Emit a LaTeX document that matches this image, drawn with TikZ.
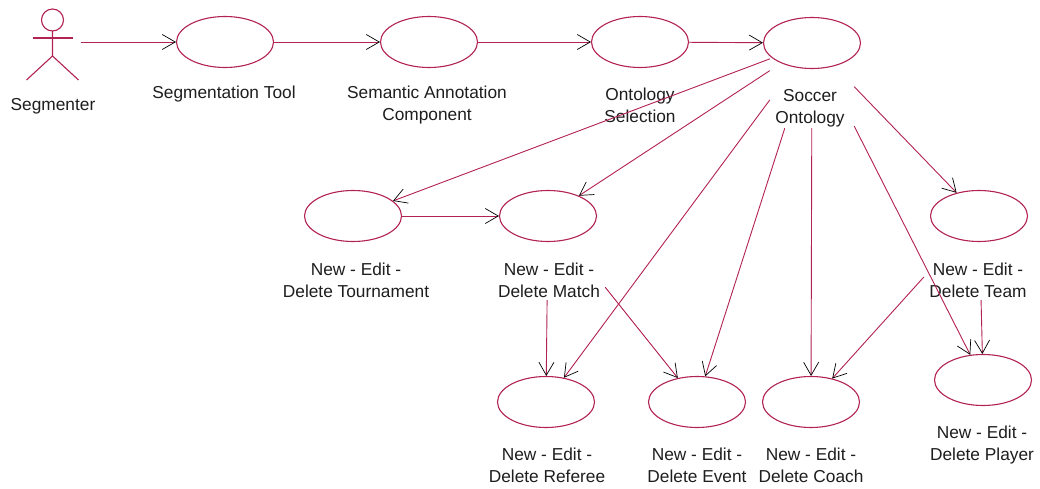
\documentclass[tikz,border=0pt]{standalone}
\usepackage{fontspec}
\setmainfont{Liberation Sans}
\usetikzlibrary{arrows.meta,shapes.geometric}
\definecolor{rose}{RGB}{178,34,84}
\definecolor{txt}{RGB}{30,30,30}
\begin{document}
\begin{tikzpicture}[x=1pt,y=-1pt,
  uc/.style={ellipse,draw=rose,line width=1.1pt,minimum width=97pt,minimum height=51pt,inner sep=0pt},
  lbl/.style={font=\fontsize{17.3}{22}\selectfont,text=txt,align=center,inner sep=0pt},
  ghost/.style={rectangle,inner sep=0pt,draw=none},
  assoc/.style={draw=rose,line width=0.9pt,-{Straight Barb[length=13pt,width=15pt,color=black,line width=0.7pt]}},
  stick/.style={draw=rose,line width=1.1pt}]
\useasboundingbox (0,0) rectangle (1040,489);
\fill[white] (0,0) rectangle (1040,489);

% actor
\node[ghost,minimum width=56pt,minimum height=80pt] (actor) at (52.5,42) {};
\draw[stick] ([shift={(0,-22)}]actor.center) circle (11);
\draw[stick] ([shift={(-20,-4)}]actor.center) -- ([shift={(20,-4)}]actor.center);
\draw[stick] ([shift={(0,-11)}]actor.center) -- ([shift={(0,14)}]actor.center) -- ([shift={(-26,38)}]actor.center);
\draw[stick] ([shift={(0,14)}]actor.center) -- ([shift={(26,38)}]actor.center);
\node[lbl] (actorL) at (53,106) {Segmenter};

% top row
\node[uc] (seg) at (225,42) {};
\node[lbl] (segL) at (224,94) {Segmentation Tool};
\node[uc] (sem) at (429,42) {};
\node[lbl] (semL) at (427,105) {Semantic Annotation\\Component};
\node[uc] (ont) at (640,42) {};
\node[lbl] (ontL) at (640,105) {Ontology\\Selection};
\node[uc] (soc) at (812,43) {};
\node[lbl] (socL) at (810,108) {Soccer\\Ontology};
\node[ghost,minimum width=84pt,minimum height=170pt] (socB) at (812,43) {};

% middle row
\node[uc] (tour) at (353,216) {};
\node[lbl] (tourL) at (356,280) {New - Edit -\\Delete Tournament};
\node[uc] (match) at (548,216) {};
\node[lbl] (matchL) at (549,280) {New - Edit -\\Delete Match};
\node[ghost,minimum width=114pt,minimum height=168pt] (matchB) at (548,216) {};
\node[uc] (team) at (979,216) {};
\node[lbl] (teamL) at (978,280) {New - Edit -\\Delete Team};
\node[ghost,minimum width=110pt,minimum height=168pt] (teamB) at (979,216) {};

% bottom row
\node[uc] (ref) at (546,402) {};
\node[lbl] (refL) at (547,465) {New - Edit -\\Delete Referee};
\node[uc] (ev) at (697,402) {};
\node[lbl] (evL) at (697,465) {New - Edit -\\Delete Event};
\node[uc] (co) at (811,402) {};
\node[lbl] (coL) at (811,465) {New - Edit -\\Delete Coach};
\node[uc] (pl) at (983,380) {};
\node[lbl] (plL) at (982,445) {New - Edit -\\Delete Player};

% associations
\draw[assoc] (actor) -- (seg);
\draw[assoc] (seg) -- (sem);
\draw[assoc] (sem) -- (ont);
\draw[assoc] (ont) -- (soc);
\draw[assoc] (socB) -- (tour);
\draw[assoc] (socB) -- (match);
\draw[assoc] (socB) -- (ref);
\draw[assoc] (socB) -- (ev);
\draw[assoc] (socB) -- (co);
\draw[assoc] (socB) -- (pl);
\draw[assoc] (socB) -- (team);
\draw[assoc] (tour) -- (match);
\draw[assoc] (matchB) -- (ref);
\draw[assoc] (matchB) -- (ev);
\draw[assoc] (teamB) -- (co);
\draw[assoc] (teamB) -- (pl);
\end{tikzpicture}
\end{document}
